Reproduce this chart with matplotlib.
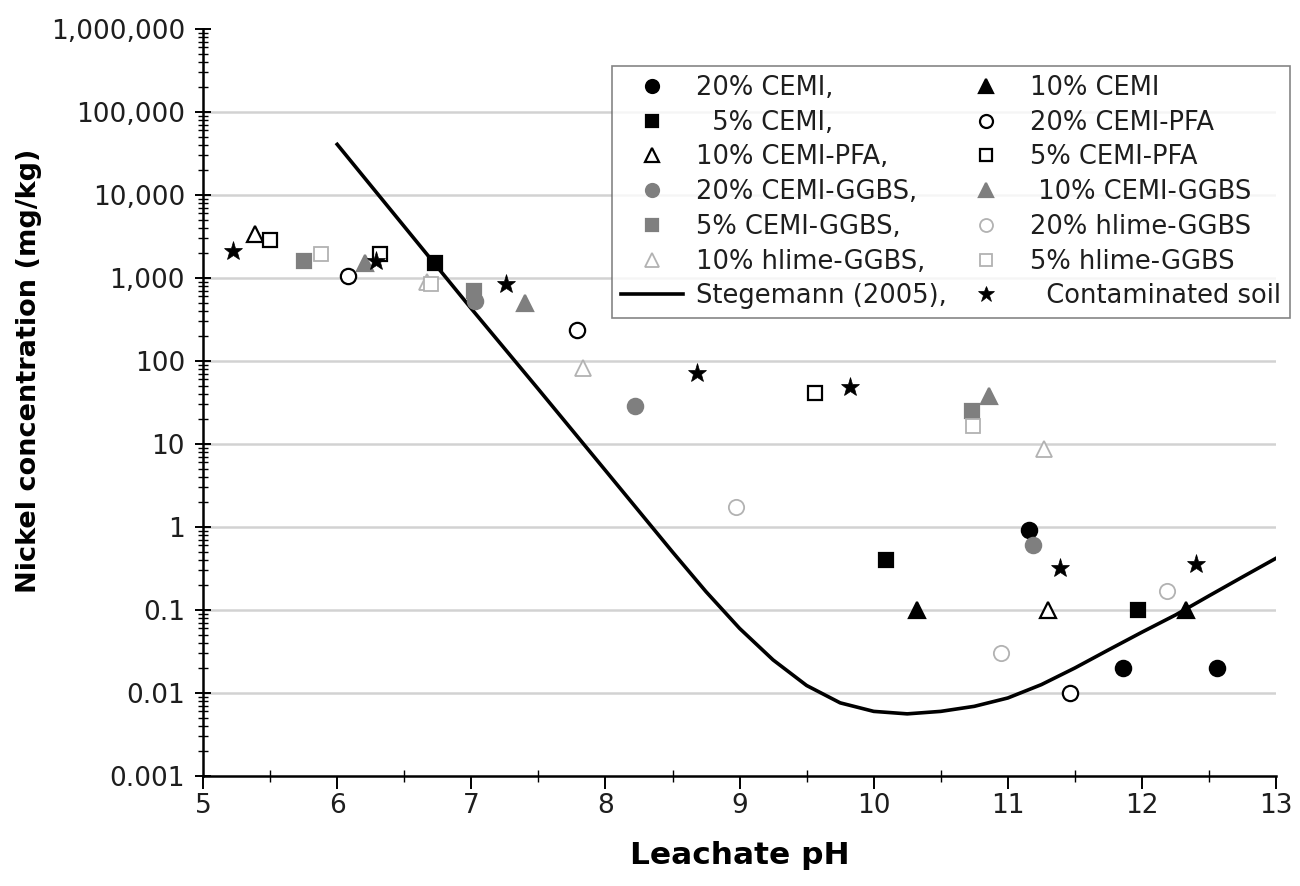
import matplotlib
matplotlib.use("Agg")
import matplotlib.pyplot as plt
from matplotlib.ticker import FuncFormatter, LogLocator, MultipleLocator

plt.rcParams['font.family'] = ['DejaVu Sans']

# measured leachate pH / Ni concentration (mg/kg)
cemi20_ph = [11.16, 11.86, 12.56]
cemi20_ni = [0.91, 0.02, 0.02]
cemi5_ph = [6.73, 10.09, 11.97]
cemi5_ni = [1500, 0.4, 0.1]
cemi10_ph = [10.32, 12.33]
cemi10_ni = [0.1, 0.1]
pfa20_ph = [6.08, 7.79, 11.46]
pfa20_ni = [1050, 235, 0.01]
pfa10_ph = [5.39, 11.30]
pfa10_ni = [3400, 0.1]
pfa5_ph = [5.50, 6.32, 9.56]
pfa5_ni = [2900, 1950, 41]
ggbs20_ph = [7.03, 8.22, 11.19]
ggbs20_ni = [525, 29, 0.6]
ggbs10_ph = [6.21, 7.40, 10.86]
ggbs10_ni = [1500, 500, 38]
ggbs5_ph = [5.75, 7.02, 10.73]
ggbs5_ni = [1600, 690, 25]
hl20_ph = [8.97, 10.95, 12.19]
hl20_ni = [1.76, 0.03, 0.17]
hl10_ph = [6.67, 7.83, 11.27]
hl10_ni = [900, 83, 8.7]
hl5_ph = [5.88, 6.70, 10.74]
hl5_ni = [1950, 850, 16.6]
soil_ph = [5.22, 6.29, 7.26, 8.68, 9.82, 11.39, 12.40]
soil_ni = [2100, 1600, 850, 72, 48, 0.32, 0.36]

# Stegemann (2005) curve
steg_ph = [6.0, 6.5, 7.0, 7.5, 8.0, 8.5, 8.75, 9.0, 9.25, 9.5, 9.75, 10.0,
           10.25, 10.5, 10.75, 11.0, 11.25, 11.5, 11.75, 12.0, 12.25, 12.5,
           12.75, 13.0]
steg_ni = [40700, 4170, 427, 45.7, 4.79, 0.50, 0.166, 0.060, 0.025, 0.0123,
           0.0076, 0.0060, 0.0056, 0.0060, 0.0069, 0.0087, 0.0126, 0.020,
           0.033, 0.054, 0.087, 0.148, 0.25, 0.42]

fig = plt.figure(figsize=(13, 8.86), dpi=100)
ax = fig.add_axes([0.1562, 0.1242, 0.8254, 0.8431])

K = 'black'
G = '#7f7f7f'
L = '#b2b2b2'
ms = 11

def pts(x, y, marker, face, edge, label, size=ms, mew=1.6):
    return ax.plot(x, y, linestyle='none', marker=marker, markersize=size,
                   markerfacecolor=face, markeredgecolor=edge,
                   markeredgewidth=mew, label=label, zorder=3)[0]

h_c20 = pts(cemi20_ph, cemi20_ni, 'o', K, K, '20% CEMI,')
h_c5 = pts(cemi5_ph, cemi5_ni, 's', K, K, '  5% CEMI,', size=10)
h_p10 = pts(pfa10_ph, pfa10_ni, '^', 'white', K, '10% CEMI-PFA,', size=12)
h_g20 = pts(ggbs20_ph, ggbs20_ni, 'o', G, G, '20% CEMI-GGBS,')
h_g5 = pts(ggbs5_ph, ggbs5_ni, 's', G, G, '5% CEMI-GGBS,', size=10)
h_h10 = pts(hl10_ph, hl10_ni, '^', 'white', L, '10% hlime-GGBS,', size=12, mew=1.3)
h_steg, = ax.plot(steg_ph, steg_ni, color=K, lw=2.6, label='Stegemann (2005),', zorder=2)

h_c10 = pts(cemi10_ph, cemi10_ni, '^', K, K, '10% CEMI', size=12)
h_p20 = pts(pfa20_ph, pfa20_ni, 'o', 'white', K, '20% CEMI-PFA')
h_p5 = pts(pfa5_ph, pfa5_ni, 's', 'white', K, '5% CEMI-PFA', size=10)
h_g10 = pts(ggbs10_ph, ggbs10_ni, '^', G, G, ' 10% CEMI-GGBS', size=12)
h_h20 = pts(hl20_ph, hl20_ni, 'o', 'white', L, '20% hlime-GGBS', mew=1.3)
h_h5 = pts(hl5_ph, hl5_ni, 's', 'white', L, '5% hlime-GGBS', size=10, mew=1.3)
h_soil = pts(soil_ph, soil_ni, '*', K, K, '  Contaminated soil', size=14, mew=0.5)

ax.set_yscale('log')
ax.set_xlim(5, 13)
ax.set_ylim(0.001, 1e6)

ax.yaxis.set_major_locator(LogLocator(base=10, numticks=20))
ax.yaxis.set_minor_locator(LogLocator(base=10, subs=range(2, 10), numticks=20))
ax.yaxis.set_major_formatter(FuncFormatter(
    lambda v, p: '{:,.0f}'.format(v) if v >= 1 else '{:g}'.format(v)))
ax.xaxis.set_major_locator(MultipleLocator(1))
ax.xaxis.set_minor_locator(MultipleLocator(0.5))

# gridlines at the inner decades only (none along the top edge)
ylo, yhi = ax.get_ylim()
grid_locs = [v for v in ax.yaxis.get_majorticklocs() if ylo * 1.001 < v < yhi * 0.999]
ax.hlines(grid_locs, 0, 1, transform=ax.get_yaxis_transform(),
          colors='#d2d2d2', lw=1.8, zorder=0)

for s in ['top', 'right']:
    ax.spines[s].set_visible(False)
ax.spines['left'].set_linewidth(1.8)
ax.spines['bottom'].set_linewidth(1.8)

ax.tick_params(axis='y', which='major', direction='inout', length=12, width=1.4,
               labelsize=19, labelcolor='#1e1e1e', pad=7)
ax.tick_params(axis='y', which='minor', direction='inout', length=7, width=1.0)
ax.tick_params(axis='x', which='major', direction='out', length=9, width=1.4,
               labelsize=19, labelcolor='#1e1e1e', pad=3)
ax.tick_params(axis='x', which='minor', direction='inout', length=8, width=1.0)

ax.set_xlabel('Leachate pH', fontsize=22.5, fontweight='bold')
ax.set_ylabel('Nickel concentration (mg/kg)', fontsize=19.5, fontweight='bold')
ax.xaxis.set_label_coords(0.5, -0.087)
ax.yaxis.set_label_coords(-0.150, 0.542)

handles = [h_c20, h_c5, h_p10, h_g20, h_g5, h_h10, h_steg,
           h_c10, h_p20, h_p5, h_g10, h_h20, h_h5, h_soil]
x0, x1 = 612 / 1300, 1290 / 1300
ytop = 1 - 66 / 886
leg = ax.legend(handles=handles, ncol=2, loc='upper left', mode='expand',
                bbox_to_anchor=(x0, ytop - 0.3, x1 - x0, 0.3),
                bbox_transform=fig.transFigure,
                prop={'size': 18.5}, frameon=True, fancybox=False,
                edgecolor='#666666', handlelength=2.4, handletextpad=0.5,
                columnspacing=0.5, labelspacing=0.34, borderpad=0.35,
                markerscale=0.85, borderaxespad=0)
leg.get_frame().set_linewidth(1.2)
for t in leg.get_texts():
    t.set_color('#1e1e1e')

fig.savefig('out.png', dpi=100)
